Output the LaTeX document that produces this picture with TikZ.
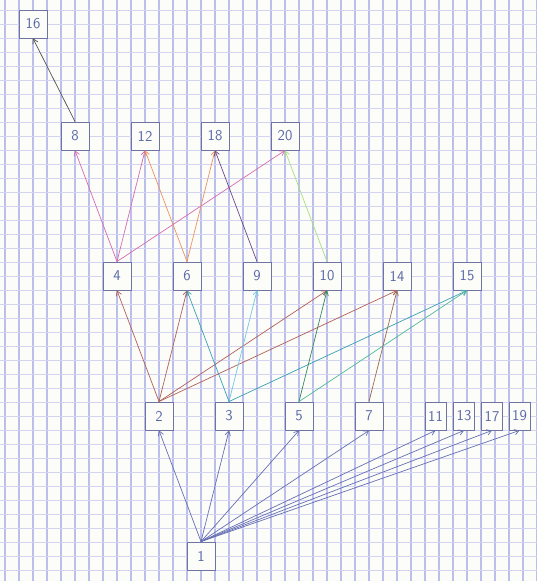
\documentclass[tikz,border=0pt]{standalone}
\usepackage{tikz}
\usetikzlibrary{arrows.meta}
\definecolor{Paper}{HTML}{FCFCF8}
\definecolor{GridV}{HTML}{BCBFEA}
\definecolor{GridH}{HTML}{D2D4F1}
\definecolor{Ink}{HTML}{5A68A8}
\definecolor{Frame}{HTML}{7074A0}
\definecolor{Slate}{HTML}{6670B4}
\definecolor{Rust}{HTML}{B2605A}
\definecolor{Teal}{HTML}{3AA0B4}
\definecolor{Sky}{HTML}{70C8E4}
\definecolor{Pine}{HTML}{2E8A5C}
\definecolor{Mint}{HTML}{50B89C}
\definecolor{Umber}{HTML}{9A6A50}
\definecolor{Rose}{HTML}{D46CB4}
\definecolor{Apricot}{HTML}{EC9262}
\definecolor{Plum}{HTML}{6A4A8A}
\definecolor{Lime}{HTML}{A8E082}
\definecolor{Coal}{HTML}{505050}

\begin{document}
\begin{tikzpicture}[x=1pt,y=-1pt,
  num/.style={draw=Frame,fill=Paper,line width=0.9pt,minimum width=28pt,minimum height=28pt,
    inner sep=0pt,text=Ink,font=\fontsize{15}{15}\sffamily},
  slim/.style={num,minimum width=21pt},
  arc/.style={-{Straight Barb[length=4.5pt,width=5.5pt]},line width=0.7pt}]
\useasboundingbox (0,0) rectangle (537,581);
\fill[Paper] (0,0) rectangle (537,581);
% squared paper
\foreach \x in {5,19,...,537}{\draw[GridV,line width=1.1pt] (\x,0) -- (\x,581);}
\foreach \y in {10,24,...,581}{\draw[GridH,line width=0.9pt] (0,\y) -- (537,\y);}
\def\yA{24}\def\yB{136}\def\yC{276}\def\yD{416}\def\yE{556}
% divisors, one row per level
\node[num] (n16) at (33,\yA) {16};
\node[num] (n8) at (75,\yB) {8};
\node[num] (n12) at (145,\yB) {12};
\node[num] (n18) at (215,\yB) {18};
\node[num] (n20) at (285,\yB) {20};
\node[num] (n4) at (117,\yC) {4};
\node[num] (n6) at (187,\yC) {6};
\node[num] (n9) at (257,\yC) {9};
\node[num] (n10) at (327,\yC) {10};
\node[num] (n14) at (397,\yC) {14};
\node[num] (n15) at (467,\yC) {15};
\node[num] (n2) at (159,\yD) {2};
\node[num] (n3) at (229,\yD) {3};
\node[num] (n5) at (299,\yD) {5};
\node[num] (n7) at (369,\yD) {7};
\node[slim] (n11) at (435.5,\yD) {11};
\node[slim] (n13) at (464,\yD) {13};
\node[slim] (n17) at (492,\yD) {17};
\node[slim] (n19) at (519.5,\yD) {19};
\node[num] (n1) at (201,\yE) {1};
% arrows
\foreach \t in {2,3,5,7,11,13,17,19}{\draw[arc,Slate] (n1.north) -- (n\t.south);}
\foreach \t in {4,6,10,14}{\draw[arc,Rust] (n2.north) -- (n\t.south);}
\draw[arc,Teal] (n3.north) -- (n6.south);
\draw[arc,Sky] (n3.north) -- (n9.south);
\draw[arc,Teal] (n3.north) -- (n15.south);
\draw[arc,Pine] (n5.north) -- (n10.south);
\draw[arc,Mint] (n5.north) -- (n15.south);
\draw[arc,Umber] (n7.north) -- (n14.south);
\foreach \t in {8,12,20}{\draw[arc,Rose] (n4.north) -- (n\t.south);}
\foreach \t in {12,18}{\draw[arc,Apricot] (n6.north) -- (n\t.south);}
\draw[arc,Plum] (n9.north) -- (n18.south);
\draw[arc,Lime] (n10.north) -- (n20.south);
\draw[arc,Coal] (n8.north) -- (n16.south);
\end{tikzpicture}
\end{document}
